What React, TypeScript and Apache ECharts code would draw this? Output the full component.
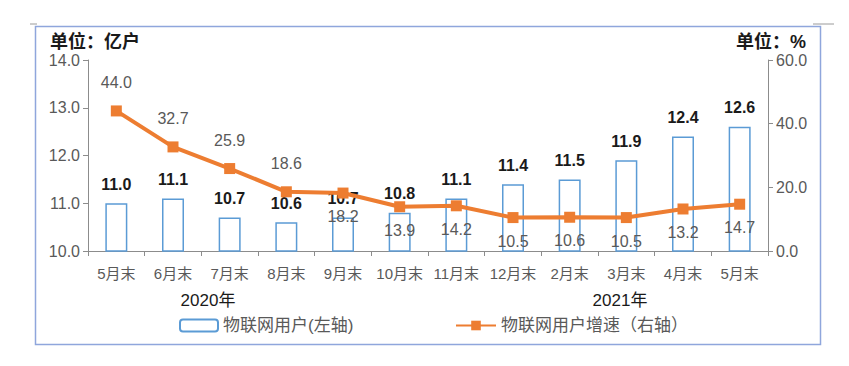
import React, { useEffect, useRef } from "react";
import * as echarts from "echarts";

const categories = ["5月末", "6月末", "7月末", "8月末", "9月末", "10月末", "11月末", "12月末", "2月末", "3月末", "4月末", "5月末"];
const users = [11.0, 11.1, 10.7, 10.6, 10.7, 10.8, 11.1, 11.4, 11.5, 11.9, 12.4, 12.6];
const growth = [44.0, 32.7, 25.9, 18.6, 18.2, 13.9, 14.2, 10.5, 10.6, 10.5, 13.2, 14.7];
const growthLabelAbove = [true, true, true, true, false, false, false, false, false, false, false, false];
const leftTicks = { min: 10, max: 14, interval: 1 };
const rightTicks = { min: 0, max: 60, interval: 20 };
const yearLabels = ["2020年", "2021年"];
const seriesNames = ["物联网用户(左轴)", "物联网用户增速（右轴）"];
const unitLeft = "单位：亿户";
const unitRight = "单位：%";

const FONT = '"Liberation Sans", "Noto Sans CJK SC", sans-serif';
const GRAY = "#595959";

export default function App() {
  const ref = useRef<HTMLDivElement>(null);
  useEffect(() => {
    if (!ref.current) return;
    const chart = echarts.init(ref.current, null, { renderer: "svg" });
    chart.setOption({
      animation: false,
      backgroundColor: "#ffffff",
      textStyle: { fontFamily: FONT },
      grid: { left: 88, right: 81, top: 60, bottom: 115 },
      legend: [
        {
          data: [seriesNames[0]],
          left: 174,
          top: 312,
          itemWidth: 38,
          itemHeight: 12,
          itemGap: 6,
          textStyle: { color: GRAY, fontSize: 17, fontFamily: FONT },
        },
        {
          data: [seriesNames[1]],
          left: 450,
          top: 312,
          itemWidth: 40,
          itemHeight: 12,
          textStyle: { color: GRAY, fontSize: 17, fontFamily: FONT },
        },
      ],
      xAxis: {
        type: "category",
        data: categories,
        boundaryGap: true,
        axisLine: { lineStyle: { color: "#8c8c8c", width: 1 } },
        axisTick: { show: true, alignWithLabel: false, length: 5, lineStyle: { color: "#8c8c8c" } },
        axisLabel: { color: GRAY, fontSize: 15, margin: 15, fontFamily: FONT, interval: 0 },
      },
      yAxis: [
        {
          type: "value",
          min: leftTicks.min,
          max: leftTicks.max,
          interval: leftTicks.interval,
          position: "left",
          axisLine: { show: true, lineStyle: { color: "#8c8c8c" } },
          axisTick: { show: true, length: 5, lineStyle: { color: "#8c8c8c" } },
          splitLine: { show: false },
          axisLabel: { color: GRAY, fontSize: 16, margin: 8, formatter: (v: number) => v.toFixed(1) },
        },
        {
          type: "value",
          min: rightTicks.min,
          max: rightTicks.max,
          interval: rightTicks.interval,
          position: "right",
          axisLine: { show: true, lineStyle: { color: "#8c8c8c" } },
          axisTick: { show: true, length: 5, lineStyle: { color: "#8c8c8c" } },
          splitLine: { show: false },
          axisLabel: { color: GRAY, fontSize: 16, margin: 8, formatter: (v: number) => v.toFixed(1) },
        },
      ],
      series: [
        {
          name: seriesNames[0],
          type: "bar",
          yAxisIndex: 0,
          data: users,
          barWidth: 22,
          itemStyle: { color: "#ffffff", borderColor: "#5b9bd5", borderWidth: 1.5 },
          label: {
            show: true,
            position: "top",
            distance: 11,
            color: "#1a1a1a",
            fontWeight: "bold",
            fontSize: 16,
            formatter: (p: any) => Number(p.value).toFixed(1),
          },
          z: 2,
        },
        {
          name: seriesNames[1],
          type: "line",
          yAxisIndex: 1,
          data: growth.map((v, i) => ({
            value: v,
            label: { position: growthLabelAbove[i] ? "top" : "bottom", distance: growthLabelAbove[i] ? 15 : 10 },
          })),
          lineStyle: { color: "#ed7d31", width: 4 },
          itemStyle: { color: "#ed7d31" },
          symbol: "rect",
          symbolSize: 11,
          label: {
            show: true,
            color: GRAY,
            fontSize: 16,
            formatter: (p: any) => Number(p.value).toFixed(1),
          },
          z: 3,
        },
      ],
      graphic: [
        { type: "rect", shape: { x: 35.5, y: 26.5, width: 785, height: 318 }, style: { fill: "none", stroke: "#8fa6dc", lineWidth: 1.5 }, silent: true },
        { type: "line", shape: { x1: 30, y1: 24, x2: 37, y2: 24 }, style: { stroke: "#9a9a9a", lineWidth: 1 } },
        { type: "line", shape: { x1: 813, y1: 24, x2: 834, y2: 24 }, style: { stroke: "#9a9a9a", lineWidth: 1 } },
        { type: "text", x: 50, y: 33, style: { text: unitLeft, font: `bold 18px ${FONT}`, fill: "#1a1a1a" } },
        { type: "text", x: 806, y: 33, style: { text: unitRight, font: `bold 18px ${FONT}`, fill: "#1a1a1a", textAlign: "right" } },
        { type: "text", x: 208, y: 292, style: { text: yearLabels[0], font: `17px ${FONT}`, fill: "#1a1a1a", textAlign: "center" } },
        { type: "text", x: 620, y: 292, style: { text: yearLabels[1], font: `17px ${FONT}`, fill: "#1a1a1a", textAlign: "center" } },
      ],
    });
    return () => chart.dispose();
  }, []);
  return <div ref={ref} style={{ width: 849, height: 366, position: "absolute", left: 0, top: 0 }} />;
}
